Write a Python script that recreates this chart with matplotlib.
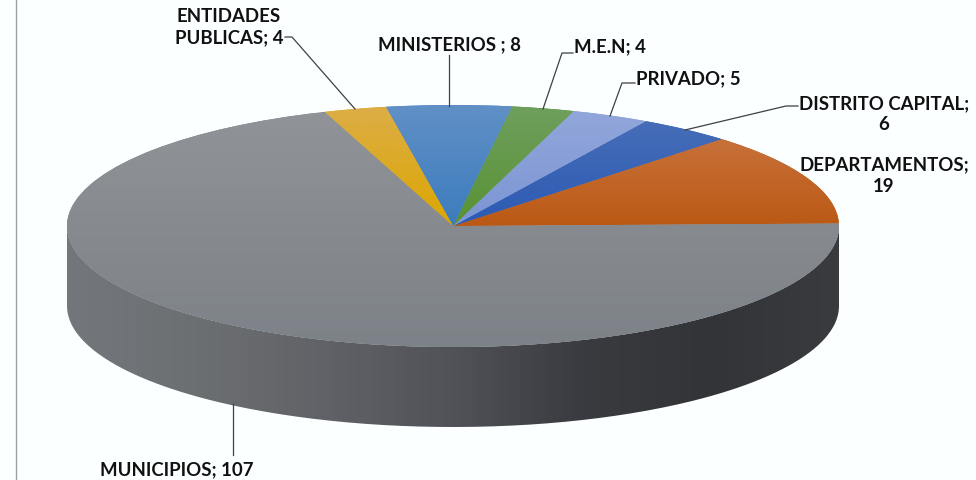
import numpy as np
import matplotlib
matplotlib.use("Agg")
import matplotlib.pyplot as plt
from matplotlib.colors import LinearSegmentedColormap
from matplotlib.lines import Line2D
from matplotlib.patches import PathPatch
from matplotlib.path import Path

# Data
categories = ["DEPARTAMENTOS", "DISTRITO CAPITAL", "PRIVADO", "M.E.N", "MINISTERIOS", "ENTIDADES PUBLICAS", "MUNICIPIOS"]
values = [19, 6, 5, 4, 8, 4, 107]
top_colors = ["#cc7a48", "#4a70b8", "#93a7da", "#6f9f5e", "#6090c6", "#dcae48", "#909397"]
low_colors = ["#bb5914", "#2c5ab3", "#7b95d3", "#589233", "#3c7cbd", "#dca600", "#7d8288"]
side_stops = ["#73777c", "#6c6f72", "#606267", "#505258", "#3a3b40", "#333438", "#3a3b3f"]

W, H = 976, 481
BG = "#fbffff"
plt.rcParams["font.family"] = ["Lato", "DejaVu Sans"]
fig = plt.figure(figsize=(W / 100, H / 100), dpi=100, facecolor=BG)

cx, cy, rx, ry, depth = 453, 227, 386, 121, 80
ax = fig.add_axes([(cx - rx) / W, 1 - (cy + ry) / H, 2 * rx / W, 2 * ry / H])
wedges, _ = ax.pie(values, startangle=1.2, counterclock=True, radius=1, colors=low_colors,
                   wedgeprops=dict(linewidth=0))
ax.set_aspect("auto")
d = depth / ry

# Side wall
t = np.linspace(np.pi, 2 * np.pi, 200)
xs = np.r_[np.cos(t), np.cos(t[::-1])]
ys = np.r_[np.sin(t) - d, np.sin(t[::-1])]
side = PathPatch(Path(np.c_[xs, ys]), fc="none", ec="none", transform=ax.transData, clip_on=False)
ax.add_patch(side)
side_cmap = LinearSegmentedColormap.from_list("side", side_stops)
im = ax.imshow(np.linspace(0, 1, 256)[None, :], cmap=side_cmap, extent=(-1, 1, -1 - d, 0),
               aspect="auto", zorder=0.5)
im.set_clip_box(fig.bbox)
im.set_clip_path(side)

# Top surface gradient (vertical, per wedge)
for w, c0, c1, name in zip(wedges, top_colors, low_colors, categories):
    cmap = LinearSegmentedColormap.from_list(name, [c0, c1])
    g = np.linspace(0, 1, 256)[:, None]
    ymin = -1 if name == "MUNICIPIOS" else 0
    ymax = 0.93 if name == "MUNICIPIOS" else 1
    im2 = ax.imshow(g, cmap=cmap, extent=(-1, 1, ymin, ymax), aspect="auto", origin="upper", zorder=2)
    im2.set_clip_path(w)
ax.set_xlim(-1, 1)
ax.set_ylim(-1, 1)
ax.set_aspect("auto")


def px(x, y):
    return x / W, 1 - y / H


def leader(points):
    fx, fy = zip(*[px(*p) for p in points])
    fig.add_artist(Line2D(fx, fy, color="#404040", lw=0.9, zorder=5))


leader([(355, 110), (292, 38), (285, 38)])
leader([(449, 107), (449, 56)])
leader([(543, 110), (562, 54), (573, 54)])
leader([(610, 117), (622, 84), (635, 84)])
leader([(685, 131), (786, 107), (798, 107)])
leader([(233, 405), (233, 456)])
fig.add_artist(Line2D([15.5 / W] * 2, [0, 1], color="#a0a0a0", lw=1.0))

labels = [
    (884, 114, "DISTRITO CAPITAL;\n6"),
    (884, 175.5, "DEPARTAMENTOS;\n19"),
    (229, 27, "ENTIDADES\nPUBLICAS; 4"),
    (449, 45, "MINISTERIOS ; 8"),
    (610, 47, "M.E.N; 4"),
    (688, 79, "PRIVADO; 5"),
    (176.5, 470, "MUNICIPIOS; 107"),
]
for x, y, s in labels:
    fx, fy = px(x, y)
    fig.text(fx, fy, s, ha="center", va="center", fontsize=13.4, fontweight="bold",
             color="#111111", linespacing=1.3)

fig.savefig("out.png", dpi=100, facecolor=BG)
